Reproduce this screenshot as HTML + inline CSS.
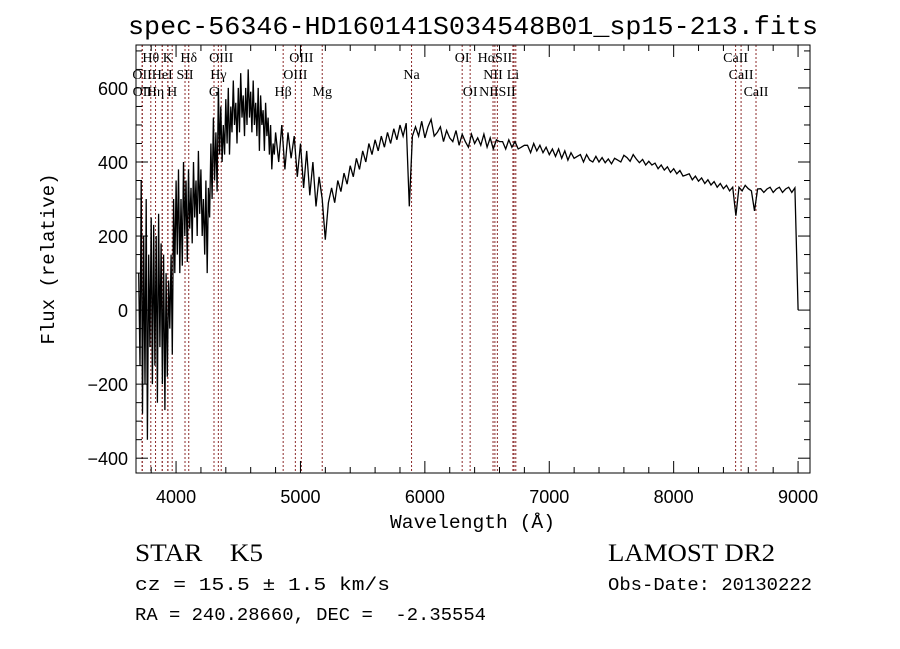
<!DOCTYPE html>
<html><head><meta charset="utf-8"><style>
body{margin:0;background:#fff;width:900px;height:649px;overflow:hidden}
svg{display:block}
.mono{font-family:"Liberation Mono",monospace}
.serif{font-family:"Liberation Serif",serif}
</style></head><body>
<svg id="chart" width="900" height="649" viewBox="0 0 900 649" xmlns="http://www.w3.org/2000/svg">
<text x="128" y="34" textLength="690" lengthAdjust="spacingAndGlyphs" class="mono" font-size="26">spec-56346-HD160141S034548B01_sp15-213.fits</text>
<g id="lines"></g>
<g id="spec"></g>
<rect x="136" y="45" width="674" height="428" fill="none" stroke="#000" stroke-width="1"/>
<g id="axes"></g>
<text x="390" y="528" textLength="165" lengthAdjust="spacingAndGlyphs" class="mono" font-size="19">Wavelength (Å)</text>
<text transform="translate(54,259) rotate(-90)" text-anchor="middle" class="mono" font-size="19">Flux (relative)</text>
<text x="135" y="561" textLength="128" lengthAdjust="spacingAndGlyphs" class="serif" font-size="25" xml:space="preserve">STAR    K5</text>
<text x="608" y="561" textLength="167" lengthAdjust="spacingAndGlyphs" class="serif" font-size="25">LAMOST DR2</text>
<text x="135" y="590" textLength="255" lengthAdjust="spacingAndGlyphs" class="mono" font-size="18">cz = 15.5 ± 1.5 km/s</text>
<text x="608" y="590" textLength="204" lengthAdjust="spacingAndGlyphs" class="mono" font-size="18">Obs-Date: 20130222</text>
<text x="135" y="620" textLength="351" lengthAdjust="spacingAndGlyphs" class="mono" font-size="18" xml:space="preserve">RA = 240.28660, DEC =  -2.35554</text>
</svg>
<script>
const blueFlux=[100,-150,350,-280,200,-200,300,-350,150,-100,250,
-200,230,-150,200,-250,260,-100,180,-200,150,
-270,100,-180,80,-50,150,-120,300,100,350,
150,380,100,300,120,400,200,350,130,380,
220,330,180,400,250,350,200,430,260,380,
200,300,150,350,100,330,250,450,300,520,
350,480,320,600,420,550,400,500,420,570,
450,600,420,550,480,620,500,560,450,600,
480,640,520,580,470,600,500,650,520,590,
480,620,500,560,470,600,430,580,500,540,
430,560,470,520,420,500,380,450,420,480];
const redFlux=[400,500,380,480,410,470,360,450,
330,430,310,400,280,360,300,190,
290,330,290,350,320,370,340,390,
360,410,380,430,400,450,420,460,
430,470,440,480,450,490,460,500,
470,505,280,470,495,470,510,465,
495,515,470,480,495,455,485,465,
455,485,445,475,455,440,475,450,
465,445,475,440,465,435,460,455,
455,435,460,440,455,435,440,445,
445,425,450,430,445,425,440,420,
435,415,435,410,430,405,425,410,
415,420,400,420,405,400,415,400,
412,398,408,395,410,405,400,418,
412,402,420,408,398,407,392,402,
392,397,382,392,378,387,372,382,
368,377,362,365,368,352,362,348,
357,342,352,338,347,332,342,328,
337,322,332,255,332,322,337,328,
322,268,327,328,318,327,332,318,
327,332,318,327,332,318,330,0];
const blueStart=3700, blueStep=10, redStart=4825, redStep=25;
const xTicks=[4000,5000,6000,7000,8000,9000];
const yTicks=[-400,-200,0,200,400,600];
const lineNames=["Hθ","K","Hδ","OIII","OIII","OI","HαSII","CaII","OII","HeI","SII","Hγ","OIII","Na","NII","Li","CaII","OII","Hη","H","G","Hβ","Mg","OI","NIISII","CaII"];
const lineWaves=[3797,3934,4102,4363,5007,6300,6563,8498,3727,3889,4072,4340,4959,5893,6548,6708,8542,3729,3835,3969,4305,4861,5175,6364,6583,8662];
const lineRows=[0,0,0,0,0,0,0,0,1,1,1,1,1,1,1,1,1,2,2,2,2,2,2,2,2,2];
const extraLineWaves=[6717,6731,3889,3934];

const X0=136,X1=810,Y0=45,Y1=473, WMIN=3678, WMAX=9096, FMIN=-440, FMAX=716;
const sx=w=>X0+(w-WMIN)/(WMAX-WMIN)*(X1-X0);
const sy=f=>Y1-(f-FMIN)/(FMAX-FMIN)*(Y1-Y0);
const NS="http://www.w3.org/2000/svg";
function mk(tag,attrs,parent){const e=document.createElementNS(NS,tag);for(const k in attrs)e.setAttribute(k,attrs[k]);parent.appendChild(e);return e;}

const lg=document.getElementById('lines');
lineWaves.concat(extraLineWaves).forEach(w=>{
  const l=mk('line',{x1:sx(w),x2:sx(w),y1:Y0,y2:Y1,stroke:'#8b2a2a','stroke-width':1,'stroke-dasharray':'2,2'},lg);
  
  
});
lineNames.forEach((n,i)=>{
  const t=mk('text',{x:sx(lineWaves[i]),y:62+lineRows[i]*17,'text-anchor':'middle','font-family':'"Liberation Serif",serif','font-size':14},lg);
  t.textContent=n;
  
  
});

const pts=[];
blueFlux.forEach((f,i)=>pts.push(sx(blueStart+i*blueStep).toFixed(1)+','+sy(f).toFixed(1)));
redFlux.forEach((f,i)=>pts.push(sx(redStart+i*redStep).toFixed(1)+','+sy(f).toFixed(1)));
const sp=mk('polyline',{points:pts.join(' '),fill:'none',stroke:'#000','stroke-width':1.3},document.getElementById('spec'));



const ax=document.getElementById('axes');
for(let w=3800;w<=9000;w+=200){
  const big=w%1000===0, len=big?12:6;
  mk('line',{x1:sx(w),x2:sx(w),y1:Y1,y2:Y1-len,stroke:'#000'},ax);
  mk('line',{x1:sx(w),x2:sx(w),y1:Y0,y2:Y0+len,stroke:'#000'},ax);
}
xTicks.forEach(v=>{
  const t=mk('text',{x:sx(v),y:503,'text-anchor':'middle','font-family':'"Liberation Sans",sans-serif','font-size':18},ax);
  t.textContent=v;
  
  
});
for(let f=-400;f<=700;f+=50){
  const big=f%200===0, len=big?12:6;
  mk('line',{x1:X0,x2:X0+len,y1:sy(f),y2:sy(f),stroke:'#000'},ax);
  mk('line',{x1:X1,x2:X1-len,y1:sy(f),y2:sy(f),stroke:'#000'},ax);
}
yTicks.forEach(v=>{
  const t=mk('text',{x:128,y:sy(v)+7,'text-anchor':'end','font-family':'"Liberation Sans",sans-serif','font-size':18},ax);
  t.textContent=v<0?'\u2212'+(-v):v;
  
  
});
</script>
</body></html>
